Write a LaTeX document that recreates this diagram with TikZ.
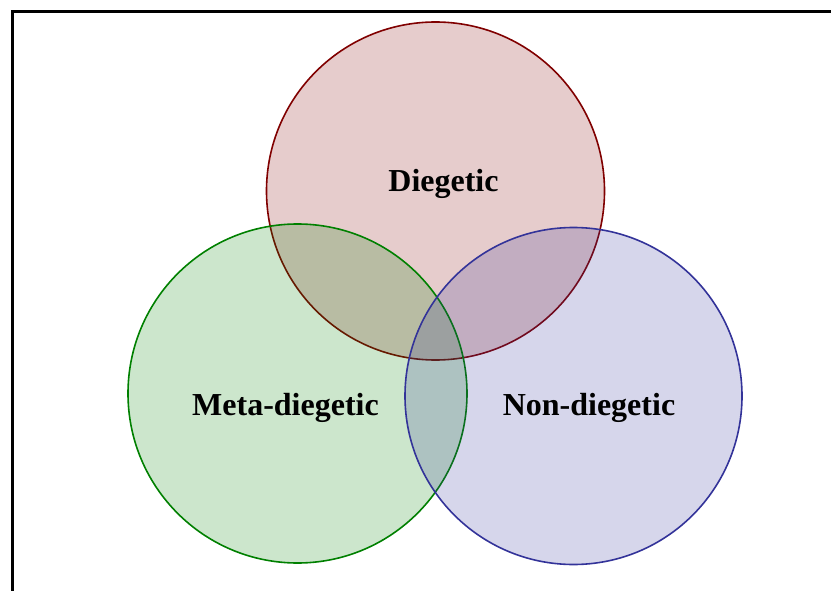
\documentclass[tikz,border=0pt]{standalone}
\usepackage{fontspec}
\setmainfont{Liberation Serif}
\definecolor{dred}{RGB}{128,0,0}
\definecolor{dgreen}{RGB}{0,128,0}
\definecolor{dblue}{RGB}{51,51,153}
\begin{document}
\begin{tikzpicture}[x=1pt,y=-1pt,
  setcircle/.style={circle,minimum size=338pt,inner sep=0pt,line width=1.6pt,fill opacity=0.2,draw opacity=1},
  lbl/.style={font=\fontsize{32}{38}\selectfont\bfseries,text=black}]
\useasboundingbox (0,0) rectangle (831,591);
\draw[line width=3pt,line cap=rect] (12.5,591) -- (12.5,11.5) -- (831,11.5);
\node[setcircle,draw=dred,fill=dred] (dieg) at (435.5,191) {};
\node[setcircle,draw=dgreen,fill=dgreen,minimum size=339pt] (meta) at (297.5,393.5) {};
\node[setcircle,draw=dblue,fill=dblue,minimum size=337pt] (non) at (573.5,396) {};
\node[lbl] (tdieg) at (443.5,184) {Diegetic};
\node[lbl] (tmeta) at (285.5,408) {Meta-diegetic};
\node[lbl] (tnon) at (589,408) {Non-diegetic};
\end{tikzpicture}
\end{document}
